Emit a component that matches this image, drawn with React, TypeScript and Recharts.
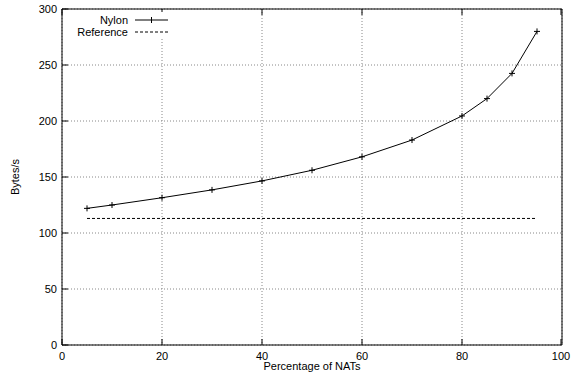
import { CartesianGrid, Legend, Line, LineChart, XAxis, YAxis } from "recharts"

// Nylon bandwidth vs share of NATed peers, gnuplot-style frame.

const natPercent = [5, 10, 20, 30, 40, 50, 60, 70, 80, 85, 90, 95]
const nylonBytes = [122, 125, 131.5, 138.5, 146.5, 156, 168, 183, 204.5, 220, 242.5, 280]
const referenceBytes = [113, 113, 113, 113, 113, 113, 113, 113, 113, 113, 113, 113]

const xTicks = [0, 20, 40, 60, 80, 100]
const yTicks = [0, 50, 100, 150, 200, 250, 300]

const FONT = "'Liberation Sans', Arial, Helvetica, sans-serif"
const TICK = 6

const rows = natPercent.map((x, i) => ({
  x,
  nylon: nylonBytes[i],
  reference: referenceBytes[i],
}))

function BottomTick({ x, y, payload }: any) {
  return (
    <g>
      <line x1={x} y1={y} x2={x} y2={y - TICK} stroke="#000" />
      <text x={x} y={y + 15} textAnchor="middle" fontSize={11} fontFamily={FONT} fill="#000">
        {payload.value}
      </text>
    </g>
  )
}

function TopTick({ x, y }: any) {
  return <line x1={x} y1={y} x2={x} y2={y + TICK} stroke="#000" />
}

function LeftTick({ x, y, payload }: any) {
  return (
    <g>
      <line x1={x} y1={y} x2={x + TICK} y2={y} stroke="#000" />
      <text x={x - 5} y={y + 4} textAnchor="end" fontSize={11} fontFamily={FONT} fill="#000">
        {payload.value}
      </text>
    </g>
  )
}

function RightTick({ x, y }: any) {
  return <line x1={x} y1={y} x2={x - TICK} y2={y} stroke="#000" />
}

function PlusDot({ cx, cy }: any) {
  if (cx == null || cy == null) return null
  return (
    <g>
      <line x1={cx - 3} y1={cy} x2={cx + 3} y2={cy} stroke="#000" />
      <line x1={cx} y1={cy - 3} x2={cx} y2={cy + 3} stroke="#000" />
    </g>
  )
}

function KeyBox() {
  return (
    <svg width={104} height={26} style={{ display: "block", background: "#fff" }}>
      <text x={58} y={12} textAnchor="end" fontSize={11} fontFamily={FONT} fill="#000">
        Nylon
      </text>
      <line x1={65} y1={8} x2={98} y2={8} stroke="#000" />
      <line x1={81.5} y1={5} x2={81.5} y2={11} stroke="#000" />
      <text x={58} y={24} textAnchor="end" fontSize={11} fontFamily={FONT} fill="#000">
        Reference
      </text>
      <line x1={65} y1={20} x2={98} y2={20} stroke="#000" strokeDasharray="3 2" />
    </svg>
  )
}

export default function App() {
  return (
    <div style={{ position: "absolute", left: 0, top: 0, background: "#fff" }}>
      <LineChart width={573} height={381} data={rows} margin={{ top: 0, right: 0, bottom: 0, left: 0 }}>
        <CartesianGrid stroke="#888" strokeDasharray="1 2" />
        <XAxis
          dataKey="x"
          type="number"
          domain={[0, 100]}
          ticks={xTicks}
          height={36}
          tickSize={0}
          tickMargin={0}
          tickLine={false}
          axisLine={{ stroke: "#000" }}
          tick={<BottomTick />}
          label={{
            content: ({ viewBox }: any) => (
              <text
                x={viewBox.x + viewBox.width / 2}
                y={viewBox.y + 25}
                textAnchor="middle"
                fontSize={11}
                fontFamily={FONT}
                fill="#000"
              >
                Percentage of NATs
              </text>
            ),
          }}
        />
        <XAxis
          xAxisId="top"
          orientation="top"
          dataKey="x"
          type="number"
          domain={[0, 100]}
          ticks={xTicks}
          height={9}
          tickSize={0}
          tickMargin={0}
          tickLine={false}
          axisLine={{ stroke: "#000" }}
          tick={<TopTick />}
        />
        <YAxis
          type="number"
          domain={[0, 300]}
          ticks={yTicks}
          width={62}
          tickSize={0}
          tickMargin={0}
          tickLine={false}
          axisLine={{ stroke: "#000" }}
          tick={<LeftTick />}
          label={{
            content: ({ viewBox }: any) => (
              <text
                transform={`translate(${viewBox.x + 19}, ${viewBox.y + viewBox.height / 2}) rotate(-90)`}
                textAnchor="middle"
                fontSize={11}
                fontFamily={FONT}
                fill="#000"
              >
                Bytes/s
              </text>
            ),
          }}
        />
        <YAxis
          yAxisId="right"
          orientation="right"
          type="number"
          domain={[0, 300]}
          ticks={yTicks}
          width={11}
          tickSize={0}
          tickMargin={0}
          tickLine={false}
          axisLine={{ stroke: "#000" }}
          tick={<RightTick />}
        />
        <Legend
          layout="vertical"
          align="center"
          verticalAlign="middle"
          wrapperStyle={{ top: 12, left: 70, width: 104 }}
          content={() => <KeyBox />}
        />
        <Line
          dataKey="reference"
          stroke="#000"
          strokeWidth={1}
          strokeDasharray="3 2"
          dot={false}
          activeDot={false}
          isAnimationActive={false}
        />
        <Line
          dataKey="nylon"
          stroke="#000"
          strokeWidth={1}
          dot={<PlusDot />}
          activeDot={false}
          isAnimationActive={false}
        />
      </LineChart>
    </div>
  )
}
